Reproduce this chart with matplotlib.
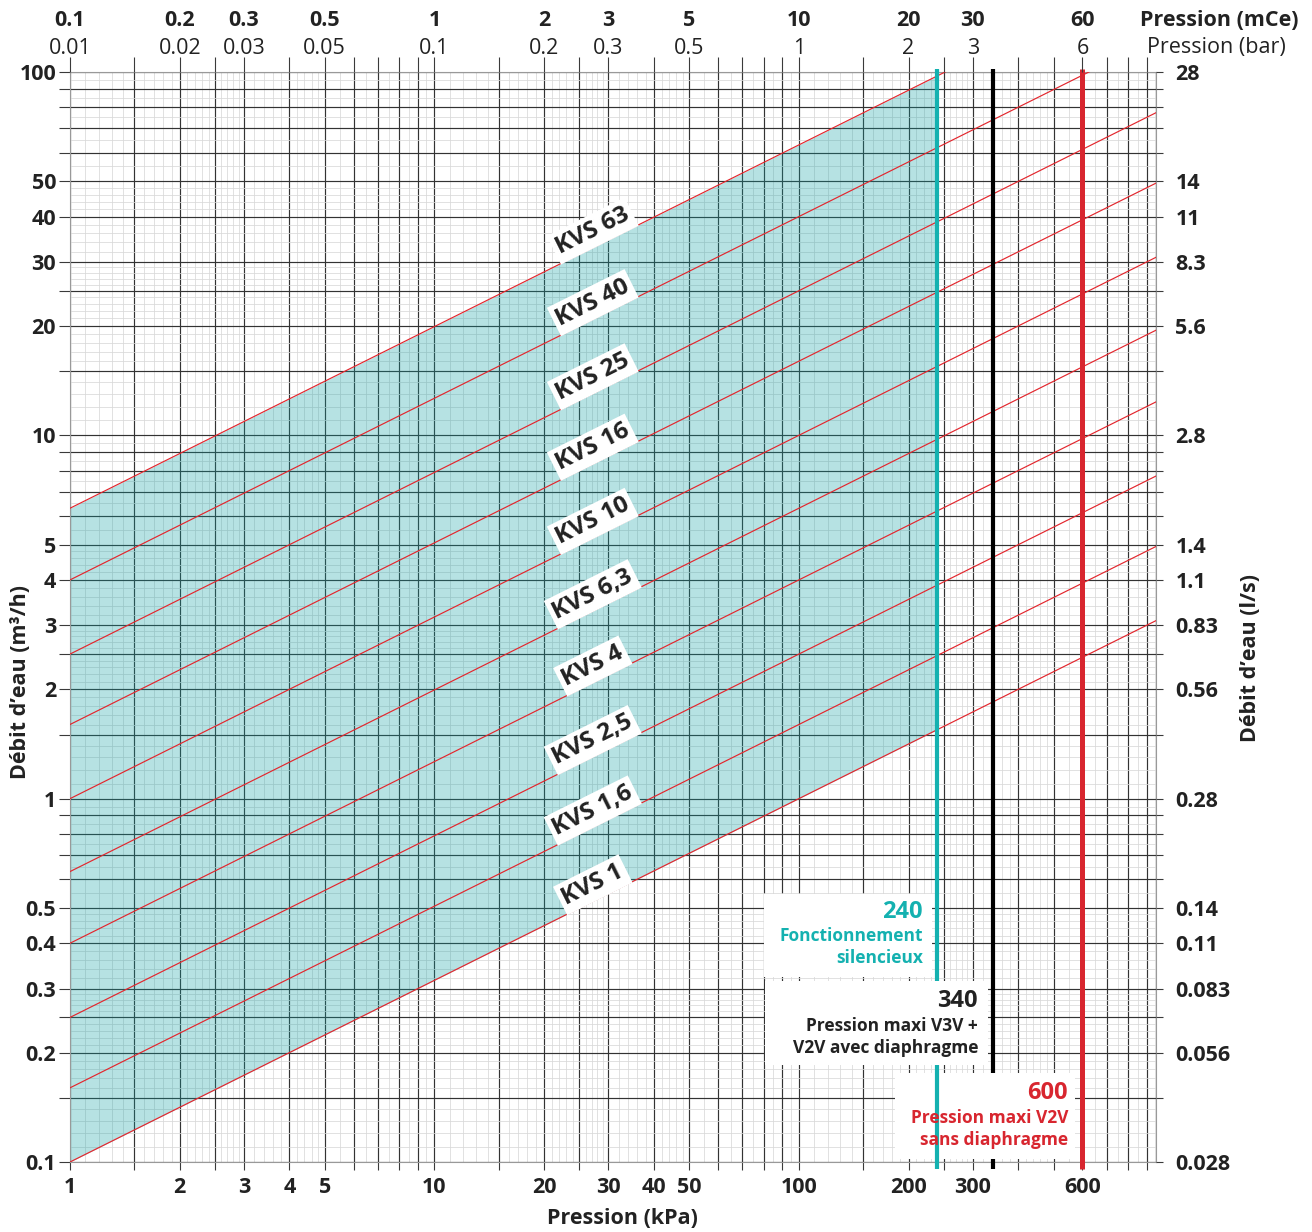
import numpy as np
import matplotlib
matplotlib.use('Agg')
import matplotlib.pyplot as plt
from matplotlib import transforms
from matplotlib.patches import Rectangle
from matplotlib.ticker import FixedLocator, FuncFormatter, NullFormatter

plt.rcParams['font.family'] = ['Open Sans', 'DejaVu Sans']
plt.rcParams['font.weight'] = 'bold'

# ---------------- data ----------------
kvs_values = [63, 40, 25, 16, 10, 6.3, 4, 2.5, 1.6, 1]
kvs_labels = ['KVS 63', 'KVS 40', 'KVS 25', 'KVS 16', 'KVS 10',
              'KVS 6,3', 'KVS 4', 'KVS 2,5', 'KVS 1,6', 'KVS 1']
p_min, p_max = 1, 955          # kPa
q_min, q_max = 0.1, 100        # m3/h
label_p = 27.2                 # kPa where KVS labels sit
silent_p = 240
max_v3v_p = 340
max_v2v_p = 600

x_ticks = [1, 2, 3, 4, 5, 10, 20, 30, 40, 50, 100, 200, 300, 600]
x_ticklabels = ['1', '2', '3', '4', '5', '10', '20', '30', '40', '50',
                '100', '200', '300', '600']
y_ticks = [0.1, 0.2, 0.3, 0.4, 0.5, 1, 2, 3, 4, 5, 10, 20, 30, 40, 50, 100]
y_ticklabels = ['0.1', '0.2', '0.3', '0.4', '0.5', '1', '2', '3', '4', '5',
                '10', '20', '30', '40', '50', '100']
ls_ticklabels = ['0.028', '0.056', '0.083', '0.11', '0.14', '0.28', '0.56',
                 '0.83', '1.1', '1.4', '2.8', '5.6', '8.3', '11', '14', '28']
top_pos = [1, 2, 3, 5, 10, 20, 30, 50, 100, 200, 300, 600]
mce_labels = ['0.1', '0.2', '0.3', '0.5', '1', '2', '3', '5', '10', '20', '30', '60']
bar_labels = ['0.01', '0.02', '0.03', '0.05', '0.1', '0.2', '0.3', '0.5',
              '1', '2', '3', '6']

dark_mult = [1, 1.5, 2, 2.5, 3, 4, 5, 6, 7, 8, 9]
light_mult = [1.1, 1.2, 1.3, 1.4, 1.6, 1.7, 1.8, 1.9, 2.1, 2.2, 2.3, 2.4,
              2.6, 2.7, 2.8, 2.9, 3.2, 3.4, 3.6, 3.8, 4.2, 4.4, 4.6, 4.8,
              5.5, 6.5, 7.5, 8.5, 9.5]

TEAL = '#14b1b0'
RED = '#d8262f'
FILL = '#b5dfe0'
KVS_RED = '#e3262d'

W, H = 1312, 1232
fig = plt.figure(figsize=(W / 100, H / 100), dpi=100)
def fx(px): return px / W
def fy(py): return 1 - py / H

ax_l, ax_r, ax_t, ax_b = 70, 1156, 72, 1162
ax = fig.add_axes([fx(ax_l), fy(ax_b), (ax_r - ax_l) / W, (ax_b - ax_t) / H])
ax.set_xscale('log')
ax.set_yscale('log')
ax.set_xlim(p_min, p_max)
ax.set_ylim(q_min, q_max)

def grid_positions(mults, lo, hi):
    out = []
    for d in [0.01, 0.1, 1, 10, 100, 1000]:
        for m in mults:
            v = round(m * d, 6)
            if lo - 1e-9 <= v <= hi + 1e-9:
                out.append(v)
    return out

xd = grid_positions(dark_mult, p_min, p_max)
xl = grid_positions(light_mult, p_min, p_max)
yd = grid_positions(dark_mult, q_min, q_max)
yl = grid_positions(light_mult, q_min, q_max)

ax.xaxis.set_major_locator(FixedLocator(xd))
ax.xaxis.set_minor_locator(FixedLocator(xl))
ax.yaxis.set_major_locator(FixedLocator(yd))
ax.yaxis.set_minor_locator(FixedLocator(yl))
xmap = {round(v, 6): s for v, s in zip(x_ticks, x_ticklabels)}
ymap = {round(v, 6): s for v, s in zip(y_ticks, y_ticklabels)}
ax.xaxis.set_major_formatter(FuncFormatter(lambda v, p: xmap.get(round(v, 6), '')))
ax.yaxis.set_major_formatter(FuncFormatter(lambda v, p: ymap.get(round(v, 6), '')))
ax.xaxis.set_minor_formatter(NullFormatter())
ax.yaxis.set_minor_formatter(NullFormatter())
ax.set_axisbelow(True)   # grid at zorder 0.5
ax.grid(which='major', color='#333333', lw=0.85)
ax.grid(which='minor', color='#d9d9d9', lw=0.55)
ax.tick_params(which='minor', length=0)
ax.tick_params(axis='x', which='major', length=6, width=0.8, color='#3a3a3a',
               pad=5, labelsize=15.5, labelcolor='#222222')
ax.tick_params(axis='y', which='major', length=8, width=0.8, color='#3a3a3a',
               pad=2, labelsize=15.5, labelcolor='#222222')
for s in ax.spines.values():
    s.set_color('#999999')
    s.set_linewidth(0.8)

# shaded area between KVS min and KVS max up to 240 kPa (translucent so grid shows)
kmax, kmin = max(kvs_values), min(kvs_values)
pf = np.array([p_min, silent_p])
ax.fill_between(pf, kmin * np.sqrt(pf / 100), kmax * np.sqrt(pf / 100),
                color='#0f9fa3', alpha=0.30, lw=0, zorder=1)

# KVS lines
pl = np.array([p_min, p_max])
for k in kvs_values:
    ax.plot(pl, k * np.sqrt(pl / 100), color=KVS_RED, lw=0.85, zorder=3)

# rotation of labels
a = ax.transData.transform((1, 0.1))
b = ax.transData.transform((100, 1))
angle = np.degrees(np.arctan2(b[1] - a[1], b[0] - a[0]))
for k, lab in zip(kvs_values, kvs_labels):
    ax.annotate(lab, xy=(label_p, k * np.sqrt(label_p / 100)), xytext=(0, 12),
                textcoords='offset points', rotation=angle, rotation_mode='anchor',
                ha='center', va='center', fontsize=17.5, color='#222222',
                bbox=dict(boxstyle='square,pad=0.16', fc='white', ec='none'),
                zorder=6)

# vertical limit lines
bt = transforms.blended_transform_factory(ax.transData, ax.transAxes)
ax.plot([max_v3v_p, max_v3v_p], [-0.006, 1.003], transform=bt, color='black',
        lw=3.0, clip_on=False, zorder=3.5, solid_capstyle='butt')
ax.plot([silent_p, silent_p], [-0.006, 1.003], transform=bt, color=TEAL,
        lw=3.0, clip_on=False, zorder=5, solid_capstyle='butt')
ax.plot([max_v2v_p, max_v2v_p], [-0.006, 1.003], transform=bt, color=RED,
        lw=3.6, clip_on=False, zorder=5, solid_capstyle='butt')

# white boxes
def box(x0, y0, x1, y1, z):
    ax.add_patch(Rectangle((fx(x0), fy(y1)), fx(x1) - fx(x0), fy(y0) - fy(y1),
                           transform=fig.transFigure, fc='white', ec='none',
                           zorder=z, clip_on=False))
box(764, 894, 932, 977, 6)
box(765, 981, 988, 1065, 6)
box(895, 1073, 1075, 1159, 4)

# box texts
fig.text(fx(923), fy(912), '240', color=TEAL, fontsize=17, ha='right', va='center')
fig.text(fx(923), fy(947), 'Fonctionnement\nsilencieux', color=TEAL, fontsize=12.5,
         ha='right', va='center', linespacing=1.3)
fig.text(fx(978), fy(1001), '340', color='#222222', fontsize=17, ha='right', va='center')
fig.text(fx(978), fy(1037), 'Pression maxi V3V +\nV2V avec diaphragme', color='#222222',
         fontsize=12.5, ha='right', va='center', linespacing=1.3)
fig.text(fx(1068), fy(1093), '600', color=RED, fontsize=17, ha='right', va='center')
fig.text(fx(1068), fy(1129), 'Pression maxi V2V\nsans diaphragme', color=RED,
         fontsize=12.5, ha='right', va='center', linespacing=1.3)

# top ticks
axt = ax.twiny()
axt.set_xscale('log')
axt.set_xlim(p_min, p_max)
axt.xaxis.set_major_locator(FixedLocator(xd))
axt.xaxis.set_minor_locator(FixedLocator([]))
axt.xaxis.set_major_formatter(NullFormatter())
axt.tick_params(axis='x', length=11, width=0.8, color='#3a3a3a')
for s in axt.spines.values():
    s.set_visible(False)

# right axis (l/s)
axr = ax.twinx()
axr.set_yscale('log')
axr.set_ylim(q_min, q_max)
axr.yaxis.set_major_locator(FixedLocator(yd))
axr.yaxis.set_minor_locator(FixedLocator([]))
rmap = {round(v, 6): s for v, s in zip(y_ticks, ls_ticklabels)}
axr.yaxis.set_major_formatter(FuncFormatter(lambda v, p: rmap.get(round(v, 6), '')))
axr.tick_params(axis='y', length=5, width=0.8, color='#3a3a3a', pad=9,
                labelsize=15.5, labelcolor='#222222')
for s in axr.spines.values():
    s.set_visible(False)

# top labels
tt = transforms.blended_transform_factory(ax.transData, fig.transFigure)
for p, m, bl in zip(top_pos, mce_labels, bar_labels):
    ax.text(p, fy(21), m, transform=tt, ha='center', va='center', fontsize=15.5,
            color='#222222', clip_on=False)
    ax.text(p, fy(48), bl, transform=tt, ha='center', va='center', fontsize=15.5,
            fontweight='normal', color='#222222', clip_on=False)
fig.text(fx(1298), fy(21), 'Pression (mCe)', ha='right', va='center', fontsize=15.5,
         color='#222222')
fig.text(fx(1286), fy(48), 'Pression (bar)', ha='right', va='center', fontsize=15.5,
         fontweight='normal', color='#222222')

# axis titles
fig.text(fx(622), fy(1219), 'Pression (kPa)', ha='center', va='center', fontsize=15.5,
         color='#222222')
fig.text(fx(21), fy(682), 'Débit d’eau (m³/h)', ha='center', va='center',
         rotation=90, fontsize=15.5, color='#222222')
fig.text(fx(1250), fy(658), 'Débit d’eau (l/s)', ha='center', va='center',
         rotation=90, fontsize=15.5, color='#222222')

fig.savefig('out.png', dpi=100)
